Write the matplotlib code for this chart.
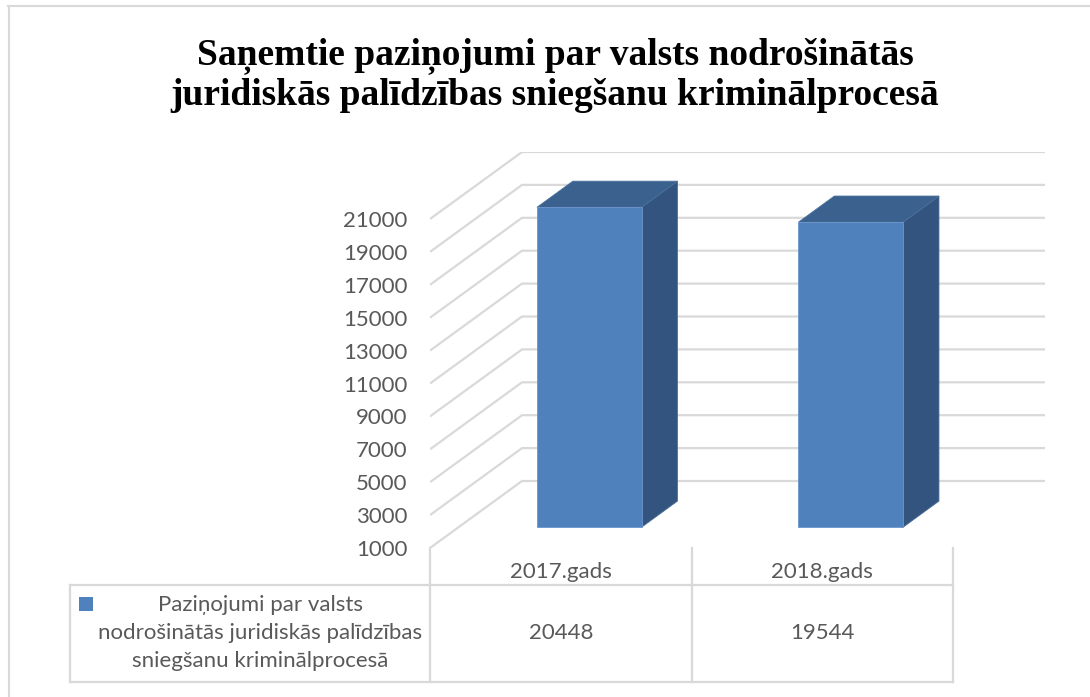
import matplotlib
matplotlib.use("Agg")
import matplotlib.pyplot as plt
from matplotlib.patches import Polygon, Rectangle
from matplotlib.lines import Line2D
import matplotlib.transforms as mtransforms

# ---- data ----
categories = ["2017.gads", "2018.gads"]
values = [20448, 19544]
series_name = "Paziņojumi par valsts\nnodrošinātās juridiskās palīdzības\nsniegšanu kriminālprocesā"
yticks = list(range(1000, 21001, 2000))
title = "Saņemtie paziņojumi par valsts nodrošinātās\njuridiskās palīdzības sniegšanu kriminālprocesā"

# ---- style ----
W, H = 1090, 697
FRONT = "#4F81BD"
TOP = "#3B618F"
SIDE = "#32547F"
GRID = "#D9D9D9"
TXT = "#595959"
FONT = "Lato"
FS = 16

fig = plt.figure(figsize=(W / 100, H / 100), dpi=100)

def fx(px):
    return px / W

def fy(py):
    return 1 - py / H

# outer border (top & left)
fig.add_artist(Line2D([fx(8), fx(1090)], [fy(5.5), fy(5.5)], color=GRID, lw=1.5))
fig.add_artist(Line2D([fx(9), fx(9)], [fy(5.5), fy(697)], color=GRID, lw=1.5))

# plot axes (front plane = x 0..2, y 1000..21000)
ax_left, ax_right, ax_top, ax_bot = 430, 1045, 152, 548
ax = fig.add_axes([fx(ax_left), fy(ax_bot), (ax_right - ax_left) / W, (ax_bot - ax_top) / H])
ncat = len(categories)
cat_px = (953 - 430) / ncat
DX = (ax_right - ax_left) / cat_px - ncat
ymin = 1000
px_per_unit = 16.45 / 1000
DY = 67 / px_per_unit
ax.set_xlim(0, ncat + DX)
ax.set_ylim(ymin, max(yticks) + DY)
for s in ax.spines.values():
    s.set_visible(False)
ax.set_xticks([])
ax.set_yticks(yticks)
ax.set_yticklabels([str(t) for t in yticks], fontfamily=FONT, fontsize=FS, color=TXT)
ax.tick_params(axis="y", length=0, pad=16)
ax.patch.set_alpha(0)

# gridlines: side wall diagonal + back wall horizontal
for t in yticks:
    ax.plot([0, DX, ncat + DX], [t, t + DY, t + DY], color=GRID, lw=1.6, zorder=1,
            solid_capstyle="butt")

# 3D bars
hw = 0.2
f0, f1 = 0.31, 0.70
for i, v in enumerate(values):
    c = i + 0.5
    x0 = c - hw + f0 * DX
    x1 = c + hw + f0 * DX
    yb = ymin + f0 * DY
    yt = v + f0 * DY
    side = Polygon([(x1, yb), (x1 + (f1 - f0) * DX, yb + (f1 - f0) * DY),
                    (x1 + (f1 - f0) * DX, yt + (f1 - f0) * DY), (x1, yt)],
                   closed=True, facecolor=SIDE, edgecolor="#4A6E9A", lw=0.6, zorder=3)
    top = Polygon([(x0, yt), (x1, yt), (x1 + (f1 - f0) * DX, yt + (f1 - f0) * DY),
                   (x0 + (f1 - f0) * DX, yt + (f1 - f0) * DY)],
                  closed=True, facecolor=TOP, edgecolor="#4A6E9A", lw=0.6, zorder=3)
    front = Rectangle((x0, yb), x1 - x0, yt - yb, facecolor=FRONT, edgecolor="#6C96CC",
                      lw=0.6, zorder=4)
    ax.add_patch(side)
    ax.add_patch(top)
    ax.add_patch(front)

# data table
trans = mtransforms.blended_transform_factory(ax.transData, fig.transFigure)
for b in range(ncat + 1):
    ax.add_line(Line2D([b, b], [fy(548), fy(682)], transform=trans, color=GRID, lw=1.6,
                       clip_on=False))
fig.add_artist(Line2D([fx(70), fx(953)], [fy(585), fy(585)], color=GRID, lw=1.6))
fig.add_artist(Line2D([fx(70), fx(953)], [fy(682), fy(682)], color=GRID, lw=1.6))
fig.add_artist(Line2D([fx(70), fx(70)], [fy(585), fy(682)], color=GRID, lw=1.6))

for i, (cat, v) in enumerate(zip(categories, values)):
    ax.text(i + 0.5, fy(572), cat, transform=trans, ha="center", va="center",
            fontfamily=FONT, fontsize=FS, color=TXT)
    ax.text(i + 0.5, fy(633), str(v), transform=trans, ha="center", va="center",
            fontfamily=FONT, fontsize=FS, color=TXT)

fig.add_artist(Rectangle((fx(79), fy(611)), 14 / W, 14 / H, facecolor=FRONT,
                         edgecolor="none", transform=fig.transFigure))
fig.text(fx(260), fy(633), series_name, ha="center", va="center", fontfamily=FONT,
         fontsize=FS, color=TXT, linespacing=1.5)

# title
fig.text(fx(555), fy(75), title, ha="center", va="center", fontfamily="Liberation Serif",
         fontweight="bold", fontsize=27, color="black", linespacing=1.15)

fig.savefig("out.png", dpi=100)
